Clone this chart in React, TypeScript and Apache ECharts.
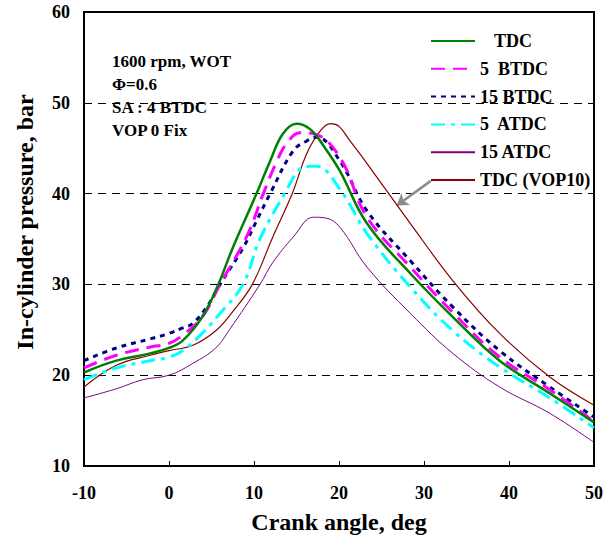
import React, { useEffect, useRef } from "react";
import * as echarts from "echarts";

const seriesNames = ["TDC", "5  BTDC", "15 BTDC", "5  ATDC", "15 ATDC", "TDC (VOP10)"];
const xTicks = [-10, 0, 10, 20, 30, 40, 50];
const yTicks = [10, 20, 30, 40, 50, 60];

const tdcX = [-10, -6.2, -2.2, 0, 1.6, 3.9, 5.8, 7.4, 10.3, 11.9, 13.4, 15.0, 16.6, 18.3, 20.1, 23.3, 28.4, 33.4, 38.9, 44.8, 50];
const tdcY = [20.3, 21.6, 22.4, 23.0, 23.8, 26.4, 30.0, 33.8, 40.0, 43.6, 46.6, 47.7, 47.1, 45.1, 42.5, 36.7, 31.2, 26.4, 21.6, 18.0, 14.8];

const b5X = [-10, -6.2, -2.2, 0, 1.6, 3.9, 6.0, 9.2, 11.1, 12.7, 13.9, 15.4, 17.0, 20.1, 23.3, 28.4, 33.4, 38.9, 44.8, 50];
const b5Y = [20.8, 22.2, 23.1, 23.5, 24.4, 26.4, 30.0, 35.4, 40.0, 43.6, 45.6, 46.7, 46.6, 44.0, 37.4, 31.9, 26.9, 22.0, 18.4, 14.9];

const b15X = [-10, -6.2, -2.2, 0, 1.6, 2.8, 4.5, 6.0, 8.7, 10.3, 11.9, 14.6, 16.2, 17.4, 20.1, 23.3, 28.4, 33.4, 38.9, 44.8, 50];
const b15Y = [21.6, 23.0, 24.0, 24.6, 25.2, 25.7, 27.6, 30.0, 34.0, 37.0, 40.0, 44.7, 45.8, 46.2, 43.6, 38.1, 32.6, 27.5, 22.7, 18.7, 15.4];

const a5X = [-10, -6.2, -2.2, 0, 1.6, 3.9, 6.0, 8.7, 10.7, 13.6, 15.4, 16.6, 17.4, 20.1, 23.3, 28.4, 33.4, 38.9, 44.8, 50];
const a5Y = [19.5, 20.8, 21.6, 22.0, 22.7, 24.6, 26.8, 30.0, 35.0, 40.0, 42.7, 43.0, 43.0, 40.5, 35.6, 29.7, 24.9, 20.9, 17.5, 14.2];

const a15X = [-10, -6.2, -3.1, 0, 2.8, 5.5, 7.1, 10.7, 12.2, 14.6, 17.0, 18.5, 20.1, 23.3, 28.4, 33.4, 38.9, 44.8, 50];
const a15Y = [17.5, 18.5, 19.5, 20.0, 21.3, 23.0, 25.0, 30.0, 32.4, 35.2, 37.4, 37.3, 36.3, 31.9, 26.8, 22.4, 18.7, 15.8, 12.6];

const vopX = [-10, -6.2, -2.2, 0, 2.8, 5.5, 7.5, 9.8, 12.2, 14.5, 16.2, 17.8, 19.0, 20.0, 21.3, 23.3, 28.4, 33.4, 38.9, 44.8, 50];
const vopY = [18.7, 21.1, 22.2, 22.7, 23.3, 24.9, 27.0, 30.0, 35.2, 40.0, 44.4, 46.9, 47.7, 47.4, 45.8, 43.3, 36.7, 30.4, 24.6, 19.8, 16.7];

const arrowFrom = [30.8, 41.4];
const arrowTo = [26.8, 38.7];

const notes = ["1600 rpm, WOT", "Φ=0.6", "SA : 4 BTDC", "VOP 0 Fix"];

const FONT = "'Liberation Serif', 'Times New Roman', serif";

function pairs(xs: number[], ys: number[]) {
  return xs.map((x, i) => [x, ys[i]]);
}

export default function App() {
  const ref = useRef<HTMLDivElement>(null);
  useEffect(() => {
    if (!ref.current) return;
    const chart = echarts.init(ref.current, undefined, { renderer: "svg" });
    const colors = ["#008000", "#FF00FF", "#000080", "#00FFFF", "#800080", "#8B0000"];
    const styles: any[] = [
      { width: 2.5, type: "solid" },
      { width: 3, type: [14, 8] },
      { width: 3, type: [5, 5] },
      { width: 3, type: [14, 6, 4, 6] },
      { width: 1, type: "solid" },
      { width: 1.2, type: "solid" },
    ];
    const datas = [
      pairs(tdcX, tdcY),
      pairs(b5X, b5Y),
      pairs(b15X, b15Y),
      pairs(a5X, a5Y),
      pairs(a15X, a15Y),
      pairs(vopX, vopY),
    ];
    const series: any[] = seriesNames.map((name, i) => ({
      name,
      type: "line",
      data: datas[i],
      symbol: "none",
      smooth: 0.4,
      z: 10 - i,
      color: colors[i],
      lineStyle: { color: colors[i], ...styles[i] },
    }));
    series[5].markLine = {
      silent: true,
      symbol: ["none", "arrow"],
      symbolSize: 11,
      label: { show: false },
      lineStyle: { color: "#8c8c8c", width: 2.5, type: "solid" },
      data: [[{ coord: arrowFrom }, { coord: arrowTo }]],
    };
    const tickFont = { fontFamily: FONT, fontWeight: "bold", fontSize: 18, color: "#000" };
    const nameFont = { fontFamily: FONT, fontWeight: "bold", fontSize: 24, color: "#000" };
    const option: any = {
      animation: false,
      backgroundColor: "#fff",
      textStyle: { fontFamily: FONT },
      grid: { left: 84, right: 22, top: 12, bottom: 77, show: true, borderColor: "#000", borderWidth: 2, backgroundColor: "transparent" },
      legend: {
        orient: "vertical",
        left: 430,
        top: 32,
        padding: 0,
        itemWidth: 44,
        itemHeight: 18,
        itemGap: 9.8,
        itemStyle: { opacity: 0 },
        data: seriesNames,
        formatter: (name: string) => (name === "TDC" ? "{pad|}TDC" : name),
        textStyle: {
          fontFamily: FONT,
          fontWeight: "bold",
          fontSize: 18,
          lineHeight: 18,
          color: "#000",
          rich: { pad: { width: 14, lineHeight: 18 } },
        },
      },
      xAxis: {
        type: "value",
        min: xTicks[0],
        max: xTicks[xTicks.length - 1],
        interval: 10,
        name: "Crank angle, deg",
        nameLocation: "middle",
        nameGap: 44,
        nameTextStyle: nameFont,
        axisLine: { show: true, onZero: false, lineStyle: { color: "#000", width: 2 } },
        axisTick: { show: true, inside: true, length: 5, lineStyle: { color: "#000", width: 1 } },
        axisLabel: { ...tickFont, margin: 18 },
        splitLine: { show: false },
      },
      yAxis: [
        {
          type: "value",
          min: yTicks[0],
          max: yTicks[yTicks.length - 1],
          interval: 10,
          name: "In-cylinder pressure, bar",
          nameLocation: "middle",
          nameGap: 47,
          nameTextStyle: { ...nameFont, padding: [0, 0, 0, 34] },
          axisLine: { show: true, onZero: false, lineStyle: { color: "#000", width: 2 } },
          axisTick: { show: true, inside: true, length: 5, lineStyle: { color: "#000", width: 1 } },
          axisLabel: { ...tickFont, margin: 14 },
          splitLine: {
            show: true,
            showMinLine: false,
            showMaxLine: false,
            lineStyle: { color: "#000", width: 1, type: [8, 6] },
          },
        },
        {
          type: "value",
          position: "right",
          min: yTicks[0],
          max: yTicks[yTicks.length - 1],
          interval: 10,
          axisLine: { show: true, onZero: false, lineStyle: { color: "#000", width: 2 } },
          axisTick: { show: true, inside: true, length: 5, lineStyle: { color: "#000", width: 1 } },
          axisLabel: { show: false },
          splitLine: { show: false },
        },
      ],
      graphic: [
        {
          type: "text",
          left: 112,
          top: 50,
          style: {
            text: notes.join("\n"),
            fontFamily: FONT,
            fontWeight: "bold",
            fontSize: 17,
            lineHeight: 23,
            fill: "#000",
          },
        },
      ],
      series,
    };
    chart.setOption(option);
    return () => chart.dispose();
  }, []);
  return <div ref={ref} style={{ width: 616, height: 543, position: "absolute", left: 0, top: 0 }} />;
}
